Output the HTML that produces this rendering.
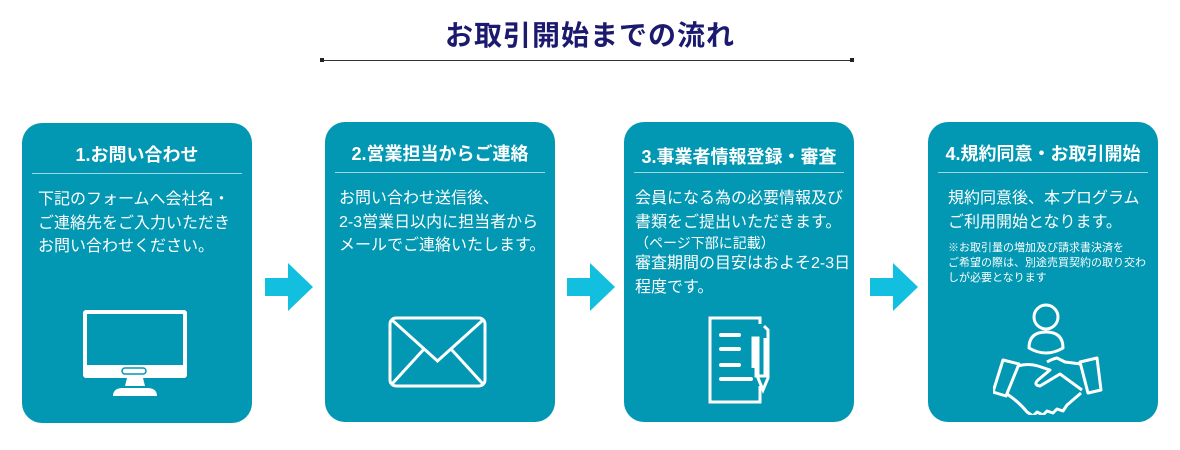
<!DOCTYPE html>
<html><head><meta charset="utf-8"><style>
body{margin:0;width:1180px;height:450px;background:#fff;position:relative;overflow:hidden;font-family:"Liberation Sans","Noto Sans CJK JP",sans-serif}
.t{position:absolute;left:0;width:1180px;top:14px;text-align:center;font-size:28px;font-weight:bold;color:#1c1a6e;letter-spacing:1px}
.ln{position:absolute;left:322px;top:60px;width:531px;height:1px;background:#333}
.sq{position:absolute;top:58px;width:4px;height:4px;background:#222}
.c{position:absolute;top:122px;width:230px;height:300px;background:#0297b2;border-radius:20px;color:#fff}
.h{position:absolute;left:0;width:100%;top:18px;text-align:center;font-size:18px;font-weight:bold;white-space:nowrap}
.d{position:absolute;left:10px;right:10px;top:50px;height:1px;background:#9fd6e0}
.b{position:absolute;left:16px;top:65px;font-size:16px;line-height:23.5px;white-space:nowrap}
.s{font-size:11px;line-height:15px}
.a{position:absolute;top:263px}
svg.i{position:absolute}
</style></head><body>
<div class="t">お取引開始までの流れ</div>
<div class="ln"></div><div class="sq" style="left:320px"></div><div class="sq" style="left:850px"></div>

<div class="c" style="left:22px;top:123px">
<div class="h">1.お問い合わせ</div><div class="d"></div>
<div class="b">下記のフォームへ会社名・<br>ご連絡先をご入力いただき<br>お問い合わせください。</div>
<svg class="i" style="left:58px;top:185px" width="110" height="90" viewBox="0 0 110 90">
<rect x="3" y="2" width="104" height="68" rx="3" fill="#fff"/><rect x="7" y="6" width="96" height="51" fill="#0297b2"/>
<rect x="42" y="60" width="24" height="6" rx="3" fill="none" stroke="#0297b2" stroke-width="1.5"/>
<path d="M47 70h16l2 8h-20z" fill="#fff"/><path d="M33 88q0-8 10-8h24q10 0 10 8z" fill="#fff"/></svg>
</div>

<svg class="a" style="left:265px" width="50" height="50"><path d="M0 15h23V0l25 24-25 24V33H0z" fill="#13bfde"/></svg>

<div class="c" style="left:325px">
<div class="h">2.営業担当からご連絡</div><div class="d"></div>
<div class="b" style="left:14px">お問い合わせ送信後、<br>2-3営業日以内に担当者から<br>メールでご連絡いたします。</div>
<svg class="i" style="left:63px;top:194px" width="102" height="74" viewBox="0 0 102 74">
<rect x="2" y="2" width="95" height="68" rx="6" fill="none" stroke="#fff" stroke-width="3"/>
<path d="M4 4l45.5 41 45.5-41M4 68l32-35M95 68l-32-35" fill="none" stroke="#fff" stroke-width="3"/></svg>
</div>

<svg class="a" style="left:567px" width="50" height="50"><path d="M0 15h23V0l25 24-25 24V33H0z" fill="#13bfde"/></svg>

<div class="c" style="left:624px">
<div class="h" style="top:21px">3.事業者情報登録・審査</div><div class="d"></div>
<div class="b" style="left:11px">会員になる為の必要情報及び<br>書類をご提出いただきます。<br><span style="font-size:14px;line-height:18px;display:block">（ページ下部に記載）</span>審査期間の目安はおよそ2-3日<br>程度です。</div>
<svg class="i" style="left:84px;top:194px" width="70" height="90" viewBox="0 0 70 90">
<path d="M24 2H2v84h50V70" fill="none" stroke="#fff" stroke-width="3"/><path d="M2 2h50v6" fill="none" stroke="#fff" stroke-width="3"/>
<g stroke="#fff" stroke-width="4" stroke-linecap="round"><path d="M13 19h18M13 33h18M13 49h18M13 63h30"/></g>
<path d="M56 10l4 4v48l-5 12-5-12V22h-5v30" fill="none" stroke="#fff" stroke-width="3"/><path d="M48 22v38h9V22" fill="none" stroke="#fff" stroke-width="3"/></svg>
</div>

<svg class="a" style="left:870px" width="50" height="50"><path d="M0 15h23V0l25 24-25 24V33H0z" fill="#13bfde"/></svg>

<div class="c" style="left:928px">
<div class="h">4.規約同意・お取引開始</div><div class="d"></div>
<div class="b" style="left:20px">規約同意後、本プログラム<br>ご利用開始となります。<br><span class="s" style="display:block;margin-top:7px">※お取引量の増加及び請求書決済を<br>ご希望の際は、別途売買契約の取り交わ<br>しが必要となります</span></div>
<svg class="i" style="left:65px;top:178px" width="115" height="115" viewBox="0 0 115 115">
<g fill="none" stroke="#fff" stroke-width="3" stroke-linejoin="round">
<circle cx="53" cy="17" r="12"/><path d="M36 48q0-16 17-16t17 16q-17 10-34 0z"/>
<path d="M10 60l16 4-13 32-13-4z"/><path d="M87 62l17-4 4 32-13 3z"/>
<path d="M25 66q10-3 20 0l12 4-12 10q-5 5 2 6l20-12 22 16"/><path d="M88 64l-16-2-8-4q-5 1-10 4"/>
<path d="M14 94q12 8 20 18l6 4 4-4 6 3 4-4 6 2 4-4 6 2 4-6 14-12"/></g></svg>
</div>
</body></html>
